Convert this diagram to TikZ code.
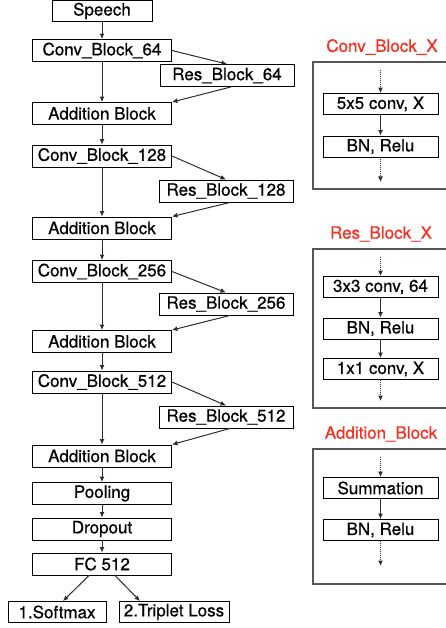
\documentclass[tikz,border=0pt]{standalone}
\usepackage{fontspec}
\setmainfont{TeX Gyre Heros}[FakeBold=0.6]
\usetikzlibrary{arrows.meta}
\definecolor{titlered}{RGB}{250,45,30}
\definecolor{linegray}{RGB}{45,45,45}
\tikzset{
  box/.style={draw=black, line width=0.9pt, inner sep=0pt, minimum height=22pt, font=\fontsize{17}{20}\selectfont, fill=white},
  mainbox/.style={box, minimum width=139pt},
  resbox/.style={box, minimum width=134pt},
  inbox/.style={box, minimum width=115pt, minimum height=21pt},
  arr/.style={draw=linegray, line width=1pt, -{Latex[length=5.5pt,width=5pt]}},
  darr/.style={draw=linegray, line width=1pt, densely dotted, -{Latex[length=5.5pt,width=5pt]}},
  frame/.style={draw=linegray!80, line width=1.3pt},
  ttl/.style={text=titlered, font=\fontsize{17}{20}\selectfont, inner sep=0pt},
}
\begin{document}
\begin{tikzpicture}[x=1pt, y=-1pt]
\useasboundingbox (0,0) rectangle (446,628);

% main column
\node[box, minimum width=100pt, minimum height=21pt] (sp) at (102,11) {Speech};
\node[mainbox] (c1) at (102,50.5) {Conv\_Block\_64};
\node[resbox] (r1) at (227,75.5) {Res\_Block\_64};
\node[mainbox] (a1) at (102,113.5) {Addition Block};
\node[mainbox] (c2) at (102,156) {Conv\_Block\_128};
\node[resbox] (r2) at (226,191) {Res\_Block\_128};
\node[mainbox] (a2) at (102,228) {Addition Block};
\node[mainbox] (c3) at (102,271.5) {Conv\_Block\_256};
\node[resbox] (r3) at (226,304) {Res\_Block\_256};
\node[mainbox] (a3) at (102,341.5) {Addition Block};
\node[mainbox] (c4) at (102,382) {Conv\_Block\_512};
\node[resbox] (r4) at (226,417) {Res\_Block\_512};
\node[mainbox] (a4) at (102,456) {Addition Block};
\node[mainbox] (po) at (102,493.5) {Pooling};
\node[mainbox] (dr) at (102,529) {Dropout};
\node[mainbox] (fc) at (102,564) {FC 512};
\node[box, minimum width=98pt, minimum height=21pt] (sm) at (57,612) {1.Softmax};
\node[box, minimum width=110pt, minimum height=21pt] (tl) at (174,612) {2.Triplet Loss};

\draw[arr] (sp) -- (c1);
\foreach \c/\r/\a in {c1/r1/a1, c2/r2/a2, c3/r3/a3, c4/r4/a4}{
  \draw[arr] (\c) -- (\a);
  \draw[arr] (\c.east) -- (\r.north);
  \draw[arr] ([xshift=4pt]\r.south) -- (\a.north east);
}
\draw[arr] (a1) -- (c2);
\draw[arr] (a2) -- (c3);
\draw[arr] (a3) -- (c4);
\draw[arr] (a4) -- (po);
\draw[arr] (po) -- (dr);
\draw[arr] (dr) -- (fc);
\draw[arr] ([xshift=-13pt]fc.south) -- ([xshift=6pt]sm.north);
\draw[arr] ([xshift=13pt]fc.south) -- ([xshift=-34pt]tl.north);

% Conv_Block_X panel
\node[ttl] (t1) at (382,47) {Conv\_Block\_X};
\draw[frame] (450,62) -- (313,62) -- (313,189) -- (450,189);
\coordinate (i1) at (380.5,70);
\node[inbox] (k1) at (380.5,104) {5x5 conv, X};
\node[inbox] (k2) at (380.5,146.5) {BN, Relu};
\coordinate (o1) at (380.5,182);
\draw[darr] (i1) -- (k1);
\draw[arr] (k1) -- (k2);
\draw[darr] (k2) -- (o1);

% Res_Block_X panel
\node[ttl] (t2) at (381,234) {Res\_Block\_X};
\draw[frame] (450,249) -- (313,249) -- (313,408) -- (450,408);
\coordinate (i2) at (380.5,257);
\node[inbox] (k3) at (380.5,287) {3x3 conv, 64};
\node[inbox] (k4) at (380.5,328.5) {BN, Relu};
\node[inbox] (k5) at (380.5,369) {1x1 conv, X};
\coordinate (o2) at (380.5,401);
\draw[darr] (i2) -- (k3);
\draw[arr] (k3) -- (k4);
\draw[arr] (k4) -- (k5);
\draw[darr] (k5) -- (o2);

% Addition_Block panel
\node[ttl] (t3) at (381,434) {Addition\_Block};
\draw[frame] (450,449) -- (313,449) -- (313,584) -- (450,584);
\coordinate (i3) at (380.5,457);
\node[inbox] (k6) at (380.5,488) {Summation};
\node[inbox] (k7) at (380.5,530) {BN, Relu};
\coordinate (o3) at (380.5,566);
\draw[darr] (i3) -- (k6);
\draw[arr] (k6) -- (k7);
\draw[darr] (k7) -- (o3);
\end{tikzpicture}
\end{document}
